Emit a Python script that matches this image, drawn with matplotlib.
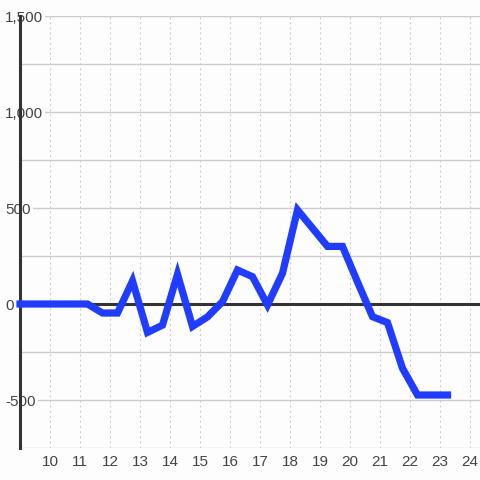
# line chart: single blue series around a zero baseline
import matplotlib
matplotlib.use("Agg")
import matplotlib.pyplot as plt
from matplotlib.ticker import MultipleLocator, FuncFormatter

# ====== data ======
x_vals = [9.0, 9.25, 9.75, 10.25, 10.75, 11.25, 11.75, 12.25, 12.75, 13.25,
          13.75, 14.25, 14.75, 15.25, 15.75, 16.25, 16.75, 17.25, 17.75,
          18.25, 18.75, 19.25, 19.75, 20.25, 20.75, 21.25, 21.75, 22.25,
          22.75, 23.25]
y_vals = [0, 0, 0, 0, 0, 0, -47, -47, 120, -148,
          -110, 155, -117, -67, 12, 177, 142, -5, 160,
          490, 395, 300, 300, 115, -66, -97, -335, -474,
          -474, -474]
x_ticks = list(range(10, 25))

line_color = "#1f3cff"
grid_color = "#cccccc"
text_color = "#444444"
dark = "#333333"
bg = "#fdfdfd"

plt.rcParams["font.family"] = ["Liberation Sans", "DejaVu Sans"]

fig = plt.figure(figsize=(4.8, 4.8), dpi=100, facecolor=bg)
ax = fig.add_axes([20 / 480, 32 / 480, 460 / 480, 432 / 480])
ax.set_facecolor(bg)

ax.set_xlim(9.0, 9.0 + 460 / 30)
ax.set_ylim(-750, 1500)

# grid: solid horizontal every 250, dotted vertical every 1
ax.yaxis.set_major_locator(MultipleLocator(500))
ax.yaxis.set_minor_locator(MultipleLocator(250))
ax.set_xticks(x_ticks)
ax.grid(axis="y", which="both", color=grid_color, linewidth=1, zorder=0)
ax.grid(axis="x", which="major", color=grid_color, linewidth=0.8,
        linestyle=(0, (1.8, 2.8)), zorder=0)
ax.set_axisbelow(True)

for side in ["top", "right", "bottom"]:
    ax.spines[side].set_visible(False)
ax.spines["left"].set_color(dark)
ax.spines["left"].set_linewidth(2.2)
ax.spines["left"].set_zorder(2)

# zero baseline
ax.axhline(0, color=dark, linewidth=2.2, zorder=2)

# the series
ax.plot(x_vals, y_vals, color=line_color, linewidth=5.2,
        solid_joinstyle="miter", solid_capstyle="projecting",
        clip_on=False, zorder=4)

# tick labels (y labels sit inside the plot, left aligned, on a bg box)
ax.yaxis.set_major_formatter(FuncFormatter(lambda v, p: f"{v:,.0f}"))
ax.tick_params(axis="y", which="both", length=0, pad=10.8,
               labelsize=11, labelcolor=text_color)
ax.tick_params(axis="x", which="both", length=0, pad=5,
               labelsize=11, labelcolor=text_color)
for lbl in ax.get_yticklabels():
    lbl.set_horizontalalignment("left")
    lbl.set_bbox(dict(facecolor=bg, edgecolor="none", pad=1.5))
    lbl.set_zorder(5)

fig.savefig("out.png", dpi=100, facecolor=fig.get_facecolor())
